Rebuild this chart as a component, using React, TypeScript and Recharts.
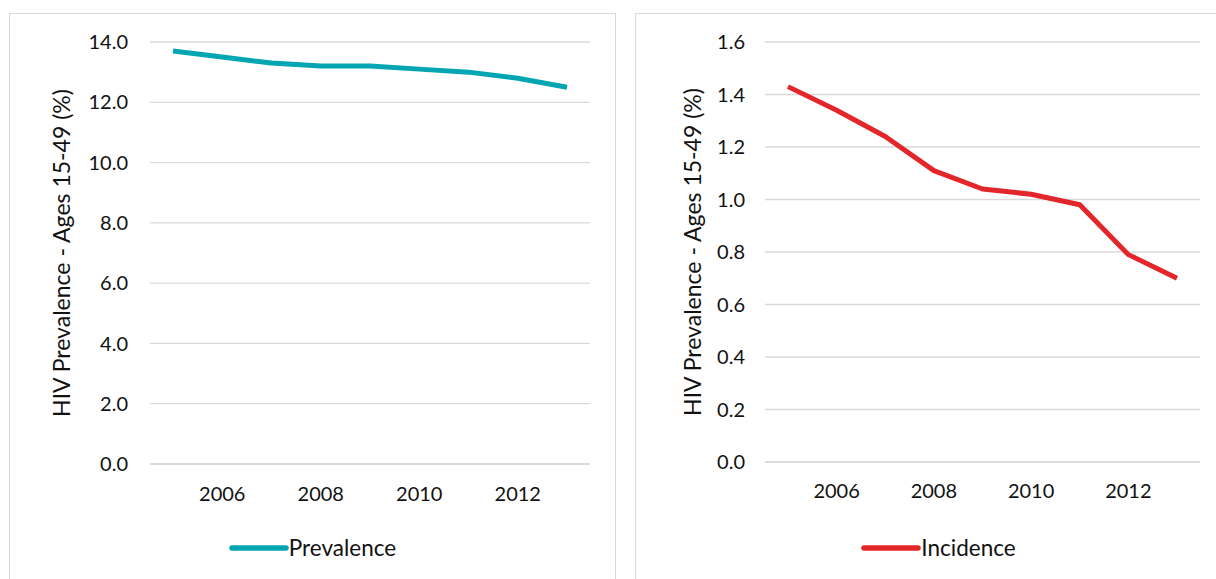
import { LineChart, Line, XAxis, YAxis, CartesianGrid, Legend, Label } from 'recharts';

const years = [2005, 2006, 2007, 2008, 2009, 2010, 2011, 2012, 2013];
const prevalence = [13.7, 13.5, 13.3, 13.2, 13.2, 13.1, 13.0, 12.8, 12.5];
const incidence = [1.43, 1.34, 1.24, 1.11, 1.04, 1.02, 0.98, 0.79, 0.7];
const prevalenceTicks = [0, 2, 4, 6, 8, 10, 12, 14];
const incidenceTicks = [0, 0.2, 0.4, 0.6, 0.8, 1.0, 1.2, 1.4, 1.6];
const labelledYears = [2006, 2008, 2010, 2012];
const yTitle = 'HIV Prevalence - Ages 15-49 (%)';

const FONT = 'Lato, "Open Sans", sans-serif';
const TEXT = '#111111';
const GRID = '#d9d9d9';

interface PanelProps {
  values: number[];
  name: string;
  color: string;
  ticks: number[];
  left: number;
  yWidth: number;
  marginRight: number;
  marginBottom: number;
  yTickMargin: number;
  xTickMargin: number;
  titleDx: number;
}

function LegendLine({ name, color }: { name: string; color: string }) {
  return (
    <div style={{ display: 'flex', alignItems: 'center', justifyContent: 'center', fontFamily: FONT, fontSize: 22.5, color: TEXT }}>
      <svg width={60} height={10}>
        <line x1={3} y1={5} x2={57} y2={5} stroke={color} strokeWidth={5.5} strokeLinecap="round" />
      </svg>
      <span>{name}</span>
    </div>
  );
}

function Panel(p: PanelProps) {
  const data = years.map((year, i) => ({ year, value: p.values[i] }));
  return (
    <div
      style={{
        position: 'absolute',
        left: p.left,
        top: 13,
        width: 605,
        height: 580,
        border: `1px solid ${GRID}`,
        background: '#fff',
        fontFamily: FONT,
      }}
    >
      <LineChart
        width={605}
        height={570}
        data={data}
        margin={{ top: 28, right: p.marginRight, left: 0, bottom: p.marginBottom }}
      >
        <CartesianGrid vertical={false} stroke={GRID} strokeWidth={1.3} />
        <XAxis
          dataKey="year"
          type="category"
          interval={0}
          padding={{ left: 23, right: 23 }}
          axisLine={{ stroke: GRID, strokeWidth: 1.3 }}
          tickLine={false}
          tickMargin={p.xTickMargin}
          tick={{ fill: TEXT, fontSize: 20 }}
          tickFormatter={(v) => (labelledYears.includes(Number(v)) ? String(v) : '')}
        />
        <YAxis
          width={p.yWidth}
          domain={[p.ticks[0], p.ticks[p.ticks.length - 1]]}
          ticks={p.ticks}
          axisLine={false}
          tickLine={false}
          tickMargin={p.yTickMargin}
          tick={{ fill: TEXT, fontSize: 20 }}
          tickFormatter={(v) => Number(v).toFixed(1)}
        >
          <Label value={yTitle} angle={-90} position="center" dx={p.titleDx} fill={TEXT} fontSize={23} />
        </YAxis>
        <Legend
          verticalAlign="middle"
          wrapperStyle={{ top: 520, left: 0, width: 605 }}
          content={() => <LegendLine name={p.name} color={p.color} />}
        />
        <Line
          dataKey="value"
          name={p.name}
          stroke={p.color}
          strokeWidth={5}
          dot={false}
          activeDot={false}
          strokeLinejoin="round"
          isAnimationActive={false}
        />
      </LineChart>
    </div>
  );
}

export default function App() {
  return (
    <div style={{ position: 'absolute', left: 0, top: 0, width: 1216, height: 579, overflow: 'hidden', background: '#fff' }}>
      <Panel
        values={prevalence}
        name="Prevalence"
        color="#02a6b3"
        ticks={prevalenceTicks}
        left={9}
        yWidth={140}
        marginRight={25}
        marginBottom={90}
        yTickMargin={16}
        xTickMargin={17}
        titleDx={-18}
      />
      <Panel
        values={incidence}
        name="Incidence"
        color="#e2262a"
        ticks={incidenceTicks}
        left={635}
        yWidth={129}
        marginRight={41}
        marginBottom={92}
        yTickMargin={14}
        xTickMargin={16}
        titleDx={-8}
      />
    </div>
  );
}
